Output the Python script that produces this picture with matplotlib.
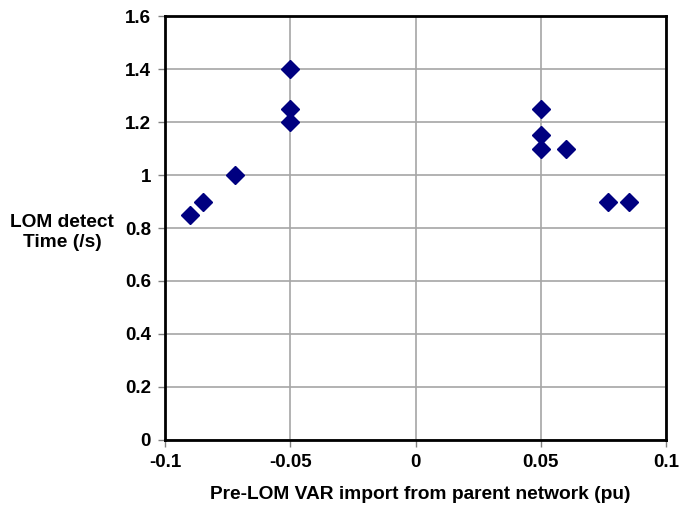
import matplotlib
matplotlib.use("Agg")
import matplotlib.pyplot as plt

# pre-LOM reactive import (pu) and detection time (s)
var_import = [-0.09, -0.085, -0.072, -0.05, -0.05, -0.05,
              0.05, 0.05, 0.05, 0.06, 0.077, 0.085]
detect_time = [0.85, 0.9, 1.0, 1.4, 1.25, 1.2,
               1.25, 1.15, 1.1, 1.1, 0.9, 0.9]

x_ticks = [-0.1, -0.05, 0, 0.05, 0.1]
x_labels = ["-0.1", "-0.05", "0", "0.05", "0.1"]
y_ticks = [0, 0.2, 0.4, 0.6, 0.8, 1.0, 1.2, 1.4, 1.6]
y_labels = ["0", "0.2", "0.4", "0.6", "0.8", "1", "1.2", "1.4", "1.6"]

plt.rcParams['font.family'] = ['Liberation Sans', 'DejaVu Sans']
plt.rcParams['font.weight'] = 'bold'

fig = plt.figure(figsize=(6.79, 5.05), dpi=100)
ax = fig.add_axes([0.243, 0.129, 0.738, 0.839])

ax.plot(var_import, detect_time, linestyle='none', marker='D',
        markersize=9.5, color='#000080', zorder=3)

ax.set_xlim(-0.1, 0.1)
ax.set_ylim(0, 1.6)
ax.set_xticks(x_ticks)
ax.set_xticklabels(x_labels)
ax.set_yticks(y_ticks)
ax.set_yticklabels(y_labels)

ax.grid(True, color='#a6a6a6', linewidth=1.2)
ax.set_axisbelow(True)
for s in ax.spines.values():
    s.set_linewidth(2.0)
    s.set_color('black')

ax.tick_params(direction='out', length=5, width=1, color='#808080',
               labelsize=13.5, pad=5)
for lbl in ax.get_xticklabels() + ax.get_yticklabels():
    lbl.set_fontweight('bold')

ax.set_xlabel("Pre-LOM VAR import from parent network (pu)",
              fontsize=13.8, fontweight='bold', va='center')
ax.xaxis.set_label_coords(0.51, -0.13)
ax.set_ylabel("LOM detect\nTime (/s)", fontsize=13.8, fontweight='bold',
              rotation=0, ha='center', va='center', linespacing=1.2)
ax.yaxis.set_label_coords(-0.205, 0.49)

fig.savefig("out.png", dpi=100)
